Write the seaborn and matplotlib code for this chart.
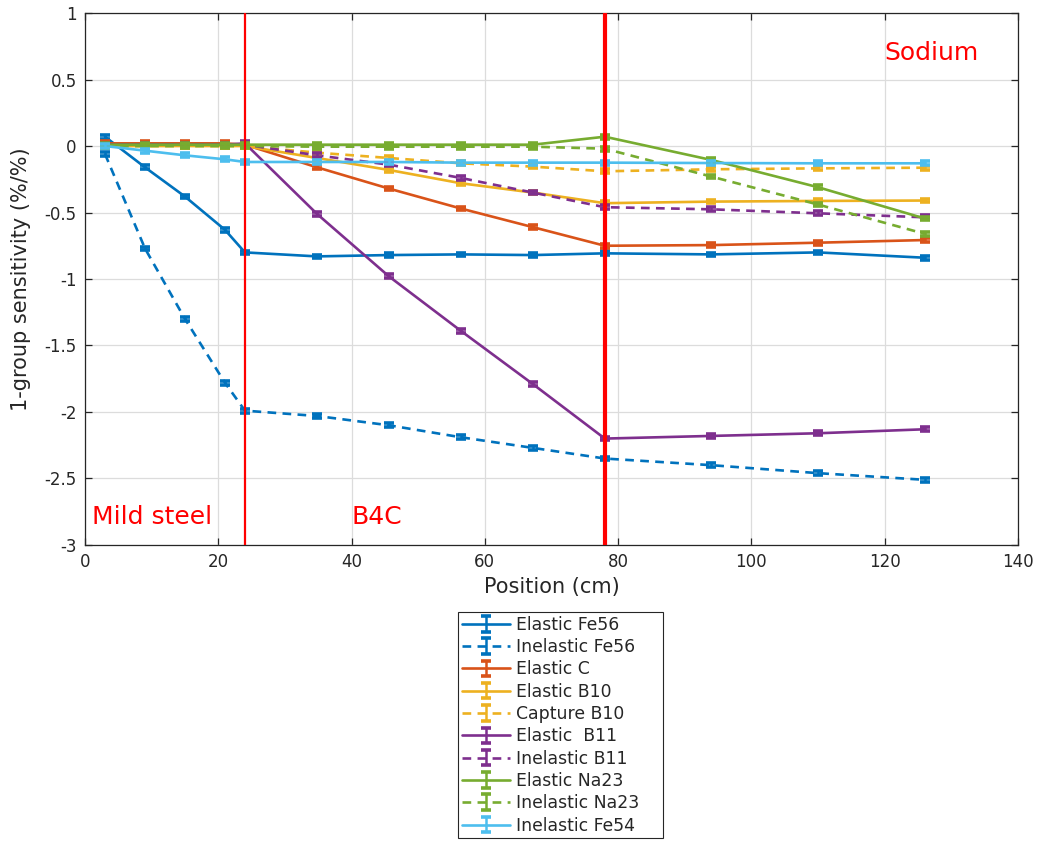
import numpy as np
import pandas as pd
import matplotlib
matplotlib.use("Agg")
import matplotlib.pyplot as plt
from matplotlib.patches import Rectangle
from matplotlib.legend_handler import HandlerErrorbar
from matplotlib.container import ErrorbarContainer
import seaborn as sns

# Cell-centre positions (cm) through mild steel, B4C and sodium
position = [3, 9, 15, 21, 24, 34.8, 45.6, 56.4, 67.2, 78, 94, 110, 126]

# 1-group sensitivities (%/%) per reaction
elastic_fe56 = [0.07, -0.16, -0.38, -0.63, -0.80, -0.83, -0.82, -0.815, -0.82, -0.807, -0.815, -0.80, -0.84]
inelastic_fe56 = [-0.06, -0.77, -1.30, -1.78, -1.99, -2.03, -2.10, -2.19, -2.27, -2.35, -2.40, -2.46, -2.51]
elastic_c = [0.02, 0.02, 0.02, 0.02, 0.01, -0.16, -0.32, -0.47, -0.61, -0.75, -0.745, -0.727, -0.707]
elastic_b10 = [0.0, 0.0, 0.0, 0.0, 0.0, -0.09, -0.18, -0.28, -0.35, -0.43, -0.418, -0.413, -0.41]
capture_b10 = [0.0, 0.0, 0.0, 0.0, 0.0, -0.05, -0.09, -0.13, -0.155, -0.19, -0.175, -0.168, -0.163]
elastic_b11 = [0.01, 0.01, 0.01, 0.01, 0.02, -0.51, -0.98, -1.39, -1.79, -2.20, -2.18, -2.16, -2.13]
inelastic_b11 = [0.01, 0.01, 0.01, 0.01, 0.01, -0.07, -0.14, -0.24, -0.35, -0.46, -0.476, -0.506, -0.536]
elastic_na23 = [0.01, 0.01, 0.01, 0.01, 0.01, 0.01, 0.01, 0.01, 0.01, 0.07, -0.105, -0.31, -0.545]
inelastic_na23 = [0.0, 0.0, 0.0, 0.0, 0.0, -0.005, -0.005, -0.005, -0.005, -0.02, -0.23, -0.44, -0.66]
inelastic_fe54 = [0.0, -0.035, -0.07, -0.10, -0.12, -0.12, -0.12, -0.125, -0.125, -0.125, -0.128, -0.13, -0.13]

series_names = ["Elastic Fe56", "Inelastic Fe56", "Elastic C", "Elastic B10", "Capture B10",
                "Elastic  B11", "Inelastic B11", "Elastic Na23", "Inelastic Na23", "Inelastic Fe54"]
series_values = [elastic_fe56, inelastic_fe56, elastic_c, elastic_b10, capture_b10,
                 elastic_b11, inelastic_b11, elastic_na23, inelastic_na23, inelastic_fe54]

# Region boundaries and labels
boundaries = [24, 78]
region_labels = ["Mild steel", "B4C", "Sodium"]

colors = ["#0072BD", "#0072BD", "#D95319", "#EDB120", "#EDB120",
          "#7E2F8E", "#7E2F8E", "#77AC30", "#77AC30", "#4DBEEE"]
dashed = [False, True, False, False, True, False, True, False, True, False]

sns.set_theme(style="ticks")
plt.rcParams["font.family"] = ["DejaVu Sans"]
plt.rcParams["axes.unicode_minus"] = False

df = pd.DataFrame({
    "Position (cm)": np.tile(position, len(series_names)),
    "sensitivity": np.concatenate(series_values),
    "series": np.repeat(series_names, len(position)),
})

fig = plt.figure(figsize=(10.39, 8.41), dpi=100)
ax = fig.add_axes([0.0818, 0.352, 0.898, 0.6325])

palette = dict(zip(series_names, colors))
dash_map = {n: ((3.3, 2.4) if d else "") for n, d in zip(series_names, dashed)}
lw = 1.9

sns.lineplot(data=df, x="Position (cm)", y="sensitivity", hue="series", style="series",
             palette=palette, dashes=dash_map, hue_order=series_names, style_order=series_names,
             linewidth=lw, legend=False, ax=ax, zorder=3)

err = 0.014
handles = []
for name, vals, c, d in zip(series_names, series_values, colors, dashed):
    ax.errorbar(position, vals, yerr=err, fmt="none", ecolor=c, elinewidth=1.8,
                capsize=3.6, capthick=2.6, zorder=4)
    h = ax.errorbar([np.nan], [np.nan], yerr=[0.1], fmt="-", color=c, linewidth=lw,
                    linestyle=(0, (3.3, 2.4)) if d else "-", elinewidth=1.8,
                    capsize=3.6, capthick=2.6, label=name)
    handles.append(h)

for b, w in zip(boundaries, [1.6, 3.0]):
    ax.axvline(b, color="#FF0000", linewidth=w, zorder=5)

ax.text(1.0, -2.79, region_labels[0], color="#FF0000", fontsize=18, va="center", ha="left")
ax.text(40, -2.79, region_labels[1], color="#FF0000", fontsize=18, va="center", ha="left")
ax.text(120, 0.7, region_labels[2], color="#FF0000", fontsize=18, va="center", ha="left")

ax.set_xlim(0, 140)
ax.set_ylim(-3, 1)
ax.set_xticks(np.arange(0, 141, 20))
ax.set_yticks(np.arange(-3, 1.01, 0.5))
ax.yaxis.set_major_formatter(matplotlib.ticker.FormatStrFormatter("%g"))
ax.grid(True, color="#dcdcdc", linewidth=0.9)
ax.set_axisbelow(True)
ax.tick_params(direction="in", length=5, width=0.9, colors="#262626", labelsize=12,
               top=True, right=True, pad=6)
for s in ax.spines.values():
    s.set_color("#262626")
    s.set_linewidth(0.9)
ax.set_xlabel("Position (cm)", fontsize=15, color="#262626")
ax.set_ylabel("1-group sensitivity (%/%)", fontsize=15, color="#262626", labelpad=9.5)

# Legend below the axes, with a frame that leaves room on the right
leg = fig.legend(handles=handles, loc="upper left", bbox_to_anchor=(0.4412, 0.2723),
                 bbox_transform=fig.transFigure, fontsize=12.4, frameon=False,
                 handlelength=2.8, handletextpad=0.35, labelspacing=0.25,
                 borderpad=0.22, borderaxespad=0,
                 handler_map={ErrorbarContainer: HandlerErrorbar(yerr_size=0.45)})
fig.canvas.draw()
bb = leg.get_window_extent().transformed(fig.transFigure.inverted())
extra = 20 / fig.bbox.width
fig.patches.append(Rectangle((bb.x0, bb.y0), bb.width + extra, bb.height,
                             transform=fig.transFigure, fill=False,
                             edgecolor="#262626", linewidth=0.8, zorder=10))

fig.savefig("out.png", dpi=100)
